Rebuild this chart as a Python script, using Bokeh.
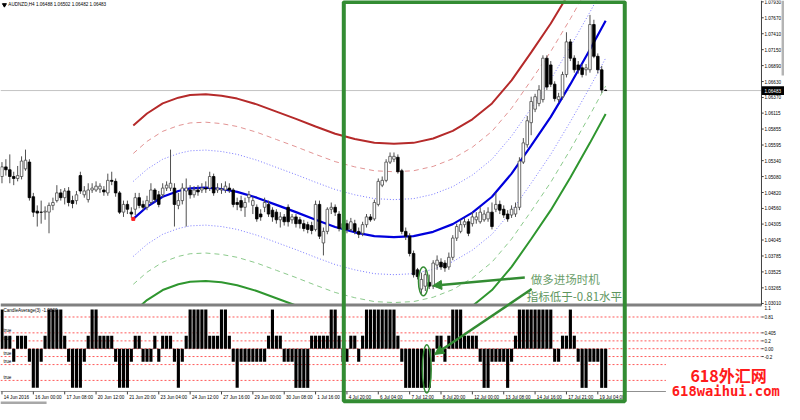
from bokeh.plotting import figure
from bokeh.models import Range1d, Arrow, NormalHead
from bokeh.core.properties import value
from bokeh.embed import file_html
from bokeh.resources import INLINE

# ---------------- data ----------------
TITLE = "AUDNZD,H4  1.06488 1.06502 1.06482 1.06483"
IND_TITLE = "CandleAverage(3) -1.0800"

OPEN = [1.05081, 1.05238, 1.05191, 1.05081, 1.05049, 1.05081, 1.05206, 1.05316, 1.04751, 1.04516,
        1.04500, 1.04500, 1.04500, 1.04610, 1.04688, 1.04814, 1.04736, 1.04845, 1.04688, 1.04688,
        1.05096, 1.04783, 1.04704, 1.04861, 1.04861, 1.04877, 1.04861, 1.04814, 1.05018, 1.05002,
        1.04814, 1.04500, 1.04626, 1.04500, 1.04547, 1.04736, 1.04626, 1.04579, 1.04657, 1.04861,
        1.04783, 1.04783, 1.04892, 1.04892, 1.04892, 1.04610, 1.04688, 1.04845, 1.04861, 1.04783,
        1.04861, 1.04861, 1.04892, 1.04892, 1.05081, 1.04861, 1.04861, 1.04861, 1.04892, 1.04861,
        1.04657, 1.04688, 1.04579, 1.04736, 1.04610, 1.04579, 1.04469, 1.04579, 1.04626, 1.04532,
        1.04500, 1.04375, 1.04422, 1.04579, 1.04375, 1.04422, 1.04375, 1.04312, 1.04296, 1.04281,
        1.04218, 1.04626, 1.03998, 1.04186, 1.04547, 1.04579, 1.04469, 1.04233, 1.04312, 1.04218,
        1.04312, 1.04186, 1.04155, 1.04296, 1.04422, 1.04390, 1.04626, 1.04940, 1.05018, 1.05316,
        1.05363, 1.05395, 1.05175, 1.04186, 1.04108, 1.03826, 1.03559, 1.03245, 1.03292, 1.03355,
        1.03292, 1.03637, 1.03684, 1.03669, 1.03606, 1.03763, 1.04077, 1.04186, 1.04296, 1.04343,
        1.04312, 1.04375, 1.04343, 1.04375, 1.04390, 1.04500, 1.04547, 1.04626, 1.04547, 1.04469,
        1.04453, 1.04469, 1.04579, 1.05316, 1.05599, 1.05959, 1.06179, 1.06273, 1.06336, 1.07011,
        1.06901, 1.06587, 1.06336, 1.06383, 1.06744, 1.07277, 1.07011, 1.06901, 1.06854, 1.06822,
        1.06822, 1.07560, 1.07042, 1.06822, 1.06488]
CLOSE = [1.05238, 1.05191, 1.05081, 1.05049, 1.05096, 1.05332, 1.05347, 1.04736, 1.04500, 1.04485,
         1.04497, 1.04516, 1.04610, 1.04657, 1.04814, 1.04736, 1.04845, 1.04657, 1.04641, 1.04783,
         1.04845, 1.04845, 1.04861, 1.04892, 1.04924, 1.04924, 1.04830, 1.05018, 1.05002, 1.04814,
         1.04500, 1.04626, 1.04547, 1.04469, 1.04736, 1.04610, 1.04579, 1.04688, 1.04861, 1.04704,
         1.04626, 1.04892, 1.04940, 1.04971, 1.04626, 1.04688, 1.04892, 1.04892, 1.04783, 1.04861,
         1.04830, 1.04892, 1.04877, 1.05081, 1.04814, 1.04892, 1.04877, 1.04924, 1.04861, 1.04626,
         1.04626, 1.04579, 1.04657, 1.04783, 1.04688, 1.04390, 1.04422, 1.04657, 1.04469, 1.04422,
         1.04375, 1.04422, 1.04343, 1.04343, 1.04422, 1.04312, 1.04312, 1.04233, 1.04218, 1.04202,
         1.04626, 1.04108, 1.04186, 1.04547, 1.04579, 1.04500, 1.04233, 1.04312, 1.04218, 1.04343,
         1.04186, 1.04139, 1.04296, 1.04422, 1.04375, 1.04657, 1.05002, 1.05018, 1.05316, 1.05410,
         1.05410, 1.05159, 1.04186, 1.04108, 1.03826, 1.03480, 1.03449, 1.03402, 1.03480, 1.03292,
         1.03669, 1.03716, 1.03606, 1.03590, 1.03763, 1.04077, 1.04265, 1.04296, 1.04343, 1.04155,
         1.04422, 1.04422, 1.04500, 1.04469, 1.04500, 1.04265, 1.04626, 1.04532, 1.04453, 1.04390,
         1.04547, 1.04579, 1.05332, 1.05630, 1.05991, 1.06305, 1.06383, 1.06493, 1.07011, 1.06540,
         1.06587, 1.06352, 1.06383, 1.06744, 1.07277, 1.07011, 1.06822, 1.06822, 1.06744, 1.06854,
         1.07560, 1.07042, 1.06822, 1.06493, 1.06483]
HIGH = [1.05316, 1.05363, 1.05442, 1.05159, 1.05253, 1.05410, 1.05520, 1.05363, 1.04814, 1.04610,
        1.04688, 1.04594, 1.04657, 1.04736, 1.04940, 1.04877, 1.04892, 1.04908, 1.04767, 1.04845,
        1.05159, 1.04924, 1.04971, 1.04971, 1.05002, 1.04971, 1.04924, 1.05128, 1.05159, 1.05049,
        1.04845, 1.04688, 1.04688, 1.04579, 1.04814, 1.04814, 1.04688, 1.04767, 1.04971, 1.04892,
        1.04845, 1.04971, 1.05002, 1.05520, 1.04971, 1.04814, 1.04971, 1.05049, 1.04940, 1.04924,
        1.04940, 1.04971, 1.05002, 1.05159, 1.05128, 1.04971, 1.04971, 1.05002, 1.04971, 1.04892,
        1.04736, 1.04767, 1.04736, 1.04845, 1.04751, 1.04626, 1.04547, 1.04736, 1.04688, 1.04579,
        1.04547, 1.04500, 1.04469, 1.04626, 1.04469, 1.04469, 1.04422, 1.04375, 1.04343, 1.04343,
        1.04688, 1.04688, 1.04249, 1.04579, 1.04657, 1.04626, 1.04516, 1.04375, 1.04375, 1.04406,
        1.04375, 1.04249, 1.04343, 1.04469, 1.04469, 1.04704, 1.05049, 1.05081, 1.05363, 1.05473,
        1.05473, 1.05442, 1.05206, 1.04249, 1.04155, 1.03873, 1.03590, 1.03512, 1.03559, 1.03480,
        1.03716, 1.03794, 1.03747, 1.03716, 1.03841, 1.04124, 1.04312, 1.04375, 1.04406, 1.04390,
        1.04500, 1.04500, 1.04579, 1.04532, 1.04579, 1.04657, 1.04814, 1.04688, 1.04610, 1.04532,
        1.04610, 1.04657, 1.05395, 1.05708, 1.06069, 1.06383, 1.06430, 1.06571, 1.07058, 1.07058,
        1.06964, 1.06634, 1.06446, 1.06791, 1.07434, 1.07324, 1.07058, 1.06964, 1.06916, 1.06916,
        1.07717, 1.07638, 1.07089, 1.06885, 1.06502]
LOW = [1.04971, 1.05096, 1.04971, 1.04940, 1.05002, 1.05034, 1.05175, 1.04688, 1.04422, 1.04265,
       1.04312, 1.04375, 1.04155, 1.04532, 1.04657, 1.04688, 1.04626, 1.04594, 1.04563, 1.04626,
       1.04798, 1.04736, 1.04657, 1.04814, 1.04830, 1.04814, 1.04767, 1.04767, 1.04940, 1.04751,
       1.04469, 1.04422, 1.04469, 1.04406, 1.04453, 1.04563, 1.04532, 1.04532, 1.04626, 1.04657,
       1.04579, 1.04736, 1.04845, 1.04845, 1.04265, 1.04547, 1.04626, 1.04265, 1.04720, 1.04736,
       1.04767, 1.04814, 1.04814, 1.04845, 1.04767, 1.04814, 1.04798, 1.04814, 1.04814, 1.04579,
       1.04532, 1.04516, 1.04422, 1.04657, 1.04469, 1.04343, 1.04359, 1.04500, 1.04422, 1.04343,
       1.04312, 1.04249, 1.04281, 1.04265, 1.04312, 1.04249, 1.04233, 1.04186, 1.04155, 1.04139,
       1.04186, 1.04061, 1.03794, 1.04139, 1.04469, 1.04437, 1.04186, 1.04171, 1.04155, 1.04186,
       1.04139, 1.04077, 1.04108, 1.04249, 1.04343, 1.04359, 1.04594, 1.04908, 1.04987, 1.05285,
       1.05316, 1.05128, 1.04139, 1.04045, 1.03778, 1.03433, 1.03402, 1.03167, 1.03214, 1.03245,
       1.03245, 1.03559, 1.03559, 1.03527, 1.03559, 1.03716, 1.04030, 1.04155, 1.04249, 1.04108,
       1.04265, 1.04312, 1.04312, 1.04343, 1.04343, 1.04218, 1.04500, 1.04469, 1.04406, 1.04343,
       1.04406, 1.04422, 1.04532, 1.05285, 1.05551, 1.05755, 1.06132, 1.06226, 1.06289, 1.06493,
       1.06540, 1.06305, 1.06289, 1.06336, 1.06697, 1.06964, 1.06775, 1.06760, 1.06697, 1.06728,
       1.06775, 1.07011, 1.06760, 1.06446, 1.06482]

CANDLE_AVG = [1, .333, .333, -.333, .333, .333, .333, -.333, -1, -1,
              -.333, .333, 1, 1, 1, 1, .333, -.333, -1, -1,
              -1, -.333, .333, 1, 1, .333, .333, .333, .333, -.333,
              -1, -1, -1, -.333, .333, .333, -.333, -.333, -.333, .333,
              -.333, .333, .333, .333, -.333, -1, -.333, .333, 1, 1,
              1, 1, 1, .333, .333, .333, 1, 1, .333, -.333,
              -1, -.333, -.333, -.333, -.333, -.333, -.333, -.333, .333, 1,
              .333, .333, -.333, -.333, -.333, -1, -1, -1, -1, .333,
              .333, .333, .333, .333, 1, 1, .333, -.333, -.333, .333,
              .333, -.333, .333, 1, 1, 1, 1, 1, 1, 1,
              1, .333, -.333, -1, -1, -1, -1, -1, -1, -1,
              -.333, .333, .333, -.333, .333, 1, 1, 1, .333, .333,
              .333, .333, -.333, -1, -1, -.333, -.333, -.333, -.333, -1,
              -.333, .333, 1, 1, 1, 1, 1, 1, 1, 1,
              1, -.333, -.333, .333, .333, 1, .333, -.333, -1, -1,
              -.333, -.333, -.333, -1, -1]

# polynomial regression channel: centre line read at these bars, band half-widths
FIT_BAR = [33.5, 37, 41, 45, 48, 52, 56, 60, 65, 70, 75, 80, 85, 90, 95, 100, 105, 110,
           115, 120, 125, 130, 135, 140, 145, 150, 154]
FIT_MID = [1.04390, 1.04587, 1.04751, 1.04845, 1.04888, 1.04900, 1.04877, 1.04830, 1.04736,
           1.04618, 1.04500, 1.04375, 1.04257, 1.04171, 1.04108, 1.04092, 1.04108, 1.04179,
           1.04304, 1.04492, 1.04751, 1.05128, 1.05583, 1.06054, 1.06587, 1.07152, 1.07623]
BAND_DEV = [0.00612, 0.01067, 0.01522]

LAST_PRICE = 1.06483
PRICE_TICKS = [1.07930, 1.07670, 1.07410, 1.07150, 1.06890, 1.06630, 1.06370, 1.06115, 1.05855,
               1.05595, 1.05340, 1.05080, 1.04820, 1.04560, 1.04305, 1.04045, 1.03785, 1.03525,
               1.03265, 1.03010]
IND_MAX = 1.08
IND_TICKS = [0.81, 0.405, 0.2, 0.0, -0.2]
IND_TICK_LABELS = ["0.81", "0.405", "0.2", "0.00", "-0.2"]
IND_LEVELS = [0.81, 0.405, 0.2, 0.0, -0.2, -0.405, -0.81]
TRUE_LEVELS = [0.405, 0.2, -0.2, -0.405, -0.81]
TIME_TICKS = [0, 8, 16, 24, 32, 40, 48, 56, 64, 72, 80, 88, 96, 104, 112, 120, 128, 136, 144, 152]
TIME_LABELS = ["14 Jun 2016", "16 Jun 00:00", "17 Jun 08:00", "20 Jun 12:00", "21 Jun 20:00",
               "23 Jun 04:00", "24 Jun 12:00", "27 Jun 16:00", "29 Jun 00:00", "30 Jun 08:00",
               "1 Jul 16:00", "4 Jul 20:00", "6 Jul 04:00", "7 Jul 12:00", "8 Jul 20:00",
               "12 Jul 00:00", "13 Jul 08:00", "14 Jul 16:00", "17 Jul 21:00", "19 Jul 04:00"]
NOTE1 = "做多进场时机"
NOTE2 = "指标低于-0.81水平"
WM1 = "618外汇网"
WM2 = "618waihui.com"

# ---------------- layout helpers (reference-pixel -> data) ----------------
P_TOP = 1.07952
P_STEP = 0.0001569


def X(px):
    return (px - 1.5) / 4.0


def Y(py):
    return P_TOP - py * P_STEP


def V(py):
    return (362.0 - py) / 40.7


G = "#338c33"
SMALL = "4.6px"
SANS = value("Liberation Sans")

p = figure(width=784, height=404, output_backend="svg", toolbar_location=None,
           x_range=Range1d(X(0), X(800)), y_range=Range1d(Y(420), Y(0)),
           x_axis_location=None, y_axis_location=None, min_border=0,
           background_fill_color="white", border_fill_color="white")
p.extra_y_ranges = {"ind": Range1d(V(420), V(0))}
p.grid.visible = False
p.outline_line_color = None

# ---------------- price panel ----------------
p.segment(x0=[X(0)], y0=[LAST_PRICE], x1=[X(776.5)], y1=[LAST_PRICE], line_color="#c4c4c4", line_width=1)

mid = FIT_MID
band_styles = [
    (3, +1, "#b52a2a", 2.0, "solid"),
    (2, +1, "#e29494", 1.0, "5 4"),
    (1, +1, "#7878ff", 1.0, "1 2"),
    (1, -1, "#7878ff", 1.0, "1 2"),
    (2, -1, "#8cca8c", 1.0, "5 4"),
    (3, -1, "#2f962f", 2.0, "solid"),
]
for k, sgn, col, lw, dash in band_styles:
    ys = [m + sgn * BAND_DEV[k - 1] for m in mid]
    p.line(FIT_BAR, ys, line_color=col, line_width=lw, line_dash=dash)
p.line(FIT_BAR, mid, line_color="#0000dc", line_width=2.2)

idx = list(range(len(CLOSE)))
p.segment(x0=idx, y0=HIGH, x1=idx, y1=LOW, line_color="#505050", line_width=1)
up = [i for i in idx if CLOSE[i] >= OPEN[i]]
dn = [i for i in idx if CLOSE[i] < OPEN[i]]
p.vbar(x=up, width=0.66, top=[CLOSE[i] for i in up], bottom=[OPEN[i] for i in up],
       fill_color="white", line_color="#484848", line_width=0.8)
p.vbar(x=dn, width=0.66, top=[OPEN[i] for i in dn], bottom=[CLOSE[i] for i in dn],
       fill_color="black", line_color="black", line_width=0.8)
p.scatter([FIT_BAR[0]], [FIT_MID[0]], marker="square", size=3, color="#ff2020")

# clip the channel at the panel border
p.quad(left=[X(0)], right=[X(776.5)], top=[Y(317)], bottom=[Y(420)], fill_color="white", line_color=None)
p.segment(x0=[X(0)], y0=[Y(316.5)], x1=[X(776.5)], y1=[Y(316.5)], line_color="#808080", line_width=3)

# ---------------- indicator panel ----------------
for lev in IND_LEVELS:
    p.segment(x0=[X(0)], y0=[lev], x1=[X(776.5)], y1=[lev], y_range_name="ind",
              line_color="#ff5a5a", line_width=1, line_dash="2 2")
p.text(x=[X(3)] * len(TRUE_LEVELS), y=[lv + 0.07 for lv in TRUE_LEVELS], text=["true"] * len(TRUE_LEVELS),
       y_range_name="ind", text_font=SANS, text_font_size=SMALL, text_baseline="middle", text_color="black")
p.vbar(x=idx, width=0.8, top=CANDLE_AVG, bottom=0, y_range_name="ind", fill_color="black", line_color=None)
p.text(x=[X(3)], y=[V(322)], text=[IND_TITLE], y_range_name="ind", text_font=SANS,
       text_font_size=SMALL, text_baseline="middle", text_color="black")

# ---------------- right axis ----------------
p.segment(x0=[X(776.5)], y0=[Y(0)], x1=[X(776.5)], y1=[Y(317)], line_color="#404040", line_width=1)
p.segment(x0=[X(776.5)] * len(PRICE_TICKS), y0=PRICE_TICKS, x1=[X(778.8)] * len(PRICE_TICKS), y1=PRICE_TICKS,
          line_color="#404040", line_width=1)
p.text(x=[X(779.5)] * len(PRICE_TICKS), y=PRICE_TICKS, text=["%.5f" % t for t in PRICE_TICKS],
       text_font=SANS, text_font_size=SMALL, text_baseline="middle", text_color="black")
p.rect(x=[X(788.5)], y=[LAST_PRICE], width=23.5 / 4.0, height=9 * P_STEP, fill_color="black", line_color=None)
p.text(x=[X(779.5)], y=[LAST_PRICE], text=["%.5f" % LAST_PRICE], text_font=SANS, text_font_size=SMALL,
       text_baseline="middle", text_color="white")
p.text(x=[X(779.5)], y=[IND_MAX], text=["1.1"], y_range_name="ind", text_font=SANS,
       text_font_size=SMALL, text_baseline="top", text_color="black")
p.segment(x0=[X(776.5)] * len(IND_TICKS), y0=IND_TICKS, x1=[X(778.8)] * len(IND_TICKS), y1=IND_TICKS,
          y_range_name="ind", line_color="#404040", line_width=1)
p.text(x=[X(779.5)] * len(IND_TICKS), y=IND_TICKS, text=IND_TICK_LABELS, y_range_name="ind",
       text_font=SANS, text_font_size=SMALL, text_baseline="middle", text_color="black")
p.quad(left=[X(797)], right=[X(800)], top=[Y(0)], bottom=[Y(78)], fill_color="#b4b4b4", line_color=None)

# ---------------- time axis ----------------
p.segment(x0=[X(0)], y0=[V(406.5)], x1=[X(776.5)], y1=[V(406.5)], y_range_name="ind",
          line_color="#909090", line_width=1)
p.segment(x0=TIME_TICKS, y0=[V(406.5)] * len(TIME_TICKS), x1=TIME_TICKS, y1=[V(409.5)] * len(TIME_TICKS),
          y_range_name="ind", line_color="#404040", line_width=1)
p.text(x=[t + 0.45 for t in TIME_TICKS], y=[V(412.5)] * len(TIME_TICKS), text=TIME_LABELS,
       y_range_name="ind", text_font=SANS, text_font_size=SMALL, text_baseline="middle", text_color="black")
p.quad(left=[X(0)], right=[X(47)], top=[Y(417)], bottom=[Y(420)], fill_color="#a8a8a8", line_color=None)

# ---------------- watermark ----------------
p.quad(left=[X(679)], right=[X(800)], top=[Y(374)], bottom=[Y(420)], fill_color="white", line_color=None)
p.text(x=[X(704)], y=[Y(389.5)], text=[WM1], text_font=value("Noto Sans CJK SC"), text_font_size="16px",
       text_font_style="bold", text_baseline="middle", text_color="#ff1a1a")
p.text(x=[X(685)], y=[Y(405.5)], text=[WM2], text_font=value("DejaVu Sans Mono"), text_font_size="13.8px",
       text_font_style="bold", text_baseline="middle", text_color="#ff1a1a")

# ---------------- annotations ----------------
p.quad(left=[X(350.3)], right=[X(637)], top=[Y(1.5)], bottom=[Y(416.5)], fill_alpha=0,
       line_color=G, line_width=4)
p.ellipse(x=[X(431.5)], y=[Y(292)], width=[10 / 4.0], height=[30 * P_STEP], fill_alpha=0,
          line_color=G, line_width=1.5)
p.ellipse(x=[X(435)], y=[V(383)], width=[9 / 4.0], height=[50 / 40.7], y_range_name="ind",
          fill_alpha=0, line_color=G, line_width=1.5)
p.add_layout(Arrow(end=NormalHead(size=9, fill_color=G, line_color=G),
                   x_start=X(535), y_start=Y(288), x_end=X(441), y_end=Y(296.5),
                   line_color=G, line_width=2.5))
p.add_layout(Arrow(end=NormalHead(size=9, fill_color=G, line_color=G),
                   x_start=X(542), y_start=Y(300), x_end=X(443), y_end=Y(368),
                   line_color=G, line_width=2.5))
p.text(x=[X(541)], y=[Y(290)], text=[NOTE1], text_font=value("Noto Sans CJK SC"), text_font_size="11.5px",
       text_baseline="middle", text_color="#6a9e6a")
p.text(x=[X(537)], y=[Y(307.5)], text=[NOTE2], text_font=value("Noto Sans CJK SC"), text_font_size="11.5px",
       text_baseline="middle", text_color="#5e965e")

# ---------------- chart title ----------------
p.scatter([X(4)], [Y(4.5)], marker="inverted_triangle", size=4, color="black")
p.text(x=[X(8)], y=[Y(4.5)], text=[TITLE], text_font=SANS, text_font_size=SMALL,
       text_baseline="middle", text_color="black")

open("out.html", "w").write(file_html(p, INLINE))
